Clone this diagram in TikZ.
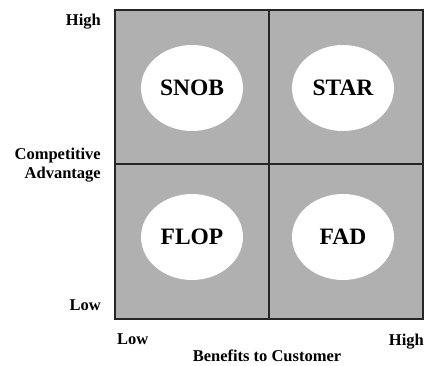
\documentclass[tikz,border=0pt]{standalone}
\usepackage{fontspec}
\setmainfont{Liberation Serif}
\usetikzlibrary{shapes.geometric}
\begin{document}
\begin{tikzpicture}[x=1pt,y=-1pt,
  quad/.style={fill=black!31,draw=black!85,line width=1.6pt},
  oval/.style={ellipse,fill=white,minimum width=102pt,minimum height=86pt,inner sep=0pt,font=\fontsize{23.5}{25}\selectfont\bfseries},
  axlab/.style={font=\fontsize{16.5}{19}\selectfont\bfseries,inner sep=0pt}]
\useasboundingbox (0,0) rectangle (424,365);
\path[quad] (115,10) rectangle (423,319);
\draw[black!85,line width=1.6pt] (269,10) -- (269,319);
\draw[black!85,line width=1.6pt] (115,164) -- (423,164);
\node[oval] (snob) at (192,88) {SNOB};
\node[oval] (star) at (343,88) {STAR};
\node[oval] (flop) at (192,237) {FLOP};
\node[oval] (fad) at (343,237) {FAD};
\node[axlab,anchor=east] (hy) at (101,22) {High};
\node[axlab,anchor=east,align=right] (ca) at (101,165) {Competitive\\Advantage};
\node[axlab,anchor=east] (ly) at (101,305) {Low};
\node[axlab,anchor=west] (lx) at (117,339) {Low};
\node[axlab,anchor=east] (hx) at (424,342) {High};
\node[axlab] (bc) at (267,356) {Benefits to Customer};
\end{tikzpicture}
\end{document}
